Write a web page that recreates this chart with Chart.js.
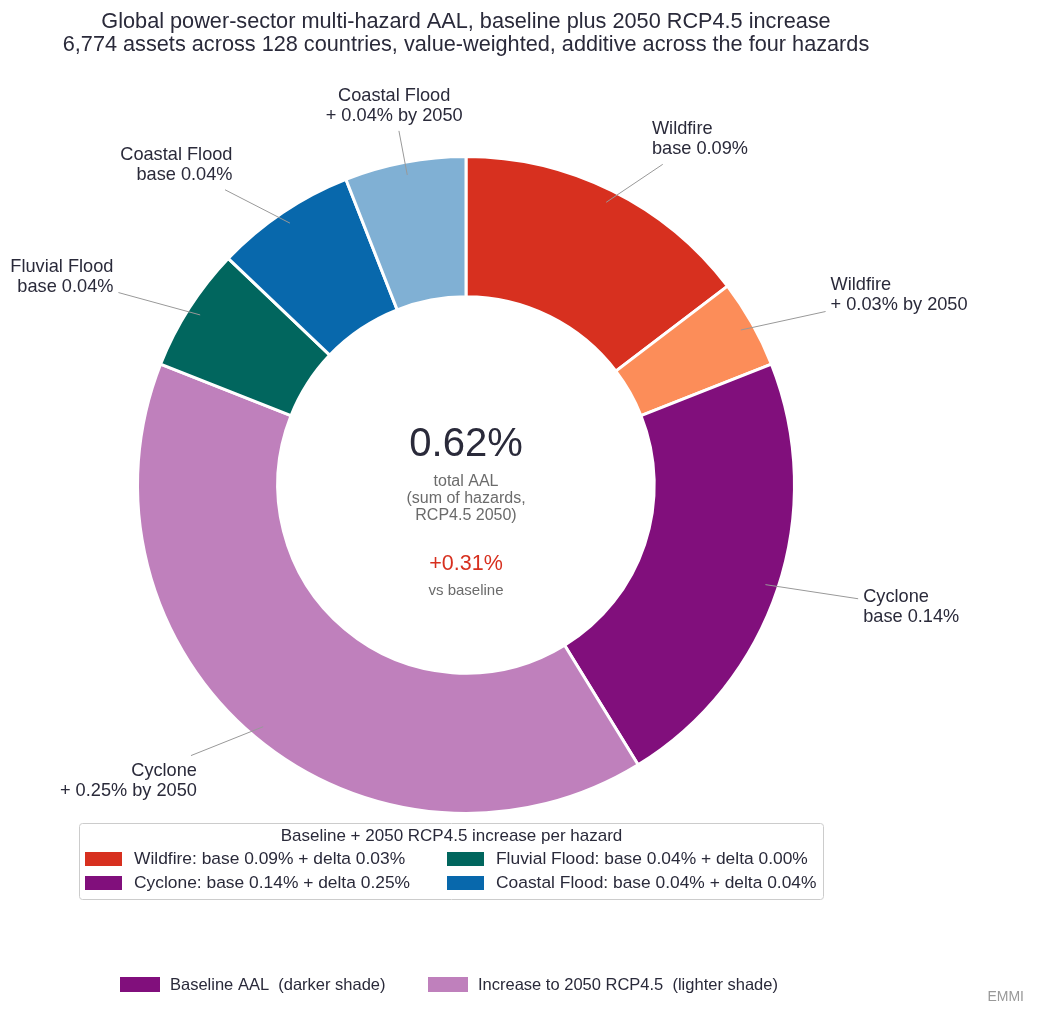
<!DOCTYPE html>
<html>
<head>
<meta charset="utf-8">
<script src="https://cdn.jsdelivr.net/npm/chart.js@4.4.0/dist/chart.umd.min.js"></script>
<style>
  html, body { margin: 0; padding: 0; background: #fff; }
  #wrap { width: 1037px; height: 1016px; position: relative; }
</style>
</head>
<body>
<div id="wrap"><canvas id="chart"></canvas></div>
<script>
const hazards = ["Wildfire", "Cyclone", "Fluvial Flood", "Coastal Flood"];
const baseAAL = [0.091, 0.138, 0.038, 0.043];
const deltaAAL = [0.027, 0.247, 0.000, 0.037];
const baseColors = ["#d7301f", "#810f7c", "#01665e", "#0868ac"];
const deltaColors = ["#fc8d59", "#bf80bc", "#7fb2ae", "#80b0d4"];
const titleLines = [
    "Global power-sector multi-hazard AAL, baseline plus 2050 RCP4.5 increase",
    "6,774 assets across 128 countries, value-weighted, additive across the four hazards"
];
const legendTitle = "Baseline + 2050 RCP4.5 increase per hazard";
const shadeLabels = ["Baseline AAL  (darker shade)", "Increase to 2050 RCP4.5  (lighter shade)"];

const FONT = "'Liberation Sans', Arial, Helvetica, sans-serif";
const INK = "#2a2a3a";

// one slice per hazard for baseline, then its increase
const segValues = [], segColors = [], segLabels = [];
hazards.forEach((h, i) => {
    segValues.push(baseAAL[i], deltaAAL[i]);
    segColors.push(baseColors[i], deltaColors[i]);
    segLabels.push([h, `base ${baseAAL[i].toFixed(2)}%`]);
    segLabels.push([h, `+ ${deltaAAL[i].toFixed(2)}% by 2050`]);
});
const totalAAL = segValues.reduce((a, b) => a + b, 0);
const totalDelta = deltaAAL.reduce((a, b) => a + b, 0);

function entryT(p, c, lo, hi) {
    if (p >= lo && p <= hi) return 0;
    const edge = p < lo ? lo : hi;
    return (edge - p) / (c - p);
}

const sliceLabels = {
    id: "sliceLabels",
    afterDatasetsDraw(chart) {
        const ctx = chart.ctx;
        const meta = chart.getDatasetMeta(0);
        const lh = 20;
        ctx.save();
        ctx.font = `18.2px ${FONT}`;
        meta.data.forEach((arc, i) => {
            if (segValues[i] <= 0) return;
            const p = arc.getProps(["x", "y", "startAngle", "endAngle", "outerRadius"], true);
            const mid = (p.startAngle + p.endAngle) / 2;
            const R = p.outerRadius - 1.5;
            const cx = Math.cos(mid), cy = Math.sin(mid);
            const x0 = p.x + cx * R * 0.965, y0 = p.y + cy * R * 0.965;
            const align = Math.abs(cx) < 0.3 ? "center" : (cx > 0 ? "left" : "right");
            const ax = p.x + cx * R * (align === "center" ? 1.18 : 1.28);
            const ay = p.y + cy * R * 1.18;
            const lines = segLabels[i];
            const w = Math.max(...lines.map(s => ctx.measureText(s).width));
            const left = align === "left" ? ax : (align === "right" ? ax - w : ax - w / 2);
            const top = ay - lines.length * lh / 2;
            const bx = left + w / 2, by = ay;
            const pad = 5;
            const t = Math.max(entryT(x0, bx, left - pad, left + w + pad),
                               entryT(y0, by, top - pad, top + lines.length * lh + pad));
            ctx.strokeStyle = "#999";
            ctx.lineWidth = 1;
            ctx.beginPath();
            ctx.moveTo(x0, y0);
            ctx.lineTo(x0 + (bx - x0) * t, y0 + (by - y0) * t);
            ctx.stroke();
            ctx.fillStyle = INK;
            ctx.textAlign = align;
            ctx.textBaseline = "middle";
            lines.forEach((s, j) => {
                ctx.fillText(s, ax, ay + (j - (lines.length - 1) / 2) * lh);
            });
        });
        ctx.restore();
    }
};

const centerText = {
    id: "centerText",
    afterDatasetsDraw(chart) {
        const ctx = chart.ctx;
        const arc = chart.getDatasetMeta(0).data[0];
        const x = arc.x, y = arc.y;
        ctx.save();
        ctx.textAlign = "center";
        ctx.textBaseline = "middle";
        // figure title, centred over the ring
        ctx.fillStyle = INK;
        ctx.font = `21.7px ${FONT}`;
        ctx.fillText(titleLines[0], x, 22);
        ctx.fillText(titleLines[1], x, 45.5);

        ctx.font = `40px ${FONT}`;
        ctx.fillText(`${totalAAL.toFixed(2)}%`, x, y - 40);
        ctx.fillStyle = "#6b6b6b";
        ctx.font = `16px ${FONT}`;
        ctx.fillText("total AAL", x, y - 3);
        ctx.fillText("(sum of hazards,", x, y + 14);
        ctx.fillText("RCP4.5 2050)", x, y + 31);
        ctx.fillStyle = "#d7301f";
        ctx.font = `21.5px ${FONT}`;
        ctx.fillText(`+${totalDelta.toFixed(2)}%`, x, y + 79);
        ctx.fillStyle = "#6b6b6b";
        ctx.font = `15px ${FONT}`;
        ctx.fillText("vs baseline", x, y + 106);
        ctx.restore();
    }
};

const legends = {
    id: "legends",
    afterDraw(chart) {
        const ctx = chart.ctx;
        ctx.save();
        // hazard legend box
        const bx = 79.5, by = 823.5, bw = 744, bh = 76;
        ctx.strokeStyle = "#cccccc";
        ctx.lineWidth = 1;
        ctx.beginPath();
        ctx.roundRect(bx, by, bw, bh, 3);
        ctx.stroke();
        ctx.fillStyle = INK;
        ctx.textBaseline = "middle";
        ctx.textAlign = "center";
        ctx.font = `17px ${FONT}`;
        ctx.fillText(legendTitle, bx + bw / 2, 836);
        ctx.textAlign = "left";
        ctx.font = `17.4px ${FONT}`;
        const cols = [85, 447], rows = [859, 883];
        hazards.forEach((h, i) => {
            const cx = cols[Math.floor(i / 2)], cy = rows[i % 2];
            ctx.fillStyle = baseColors[i];
            ctx.fillRect(cx, cy - 7, 37, 14);
            ctx.fillStyle = INK;
            ctx.fillText(`${h}: base ${baseAAL[i].toFixed(2)}% + delta ${deltaAAL[i].toFixed(2)}%`, cx + 49, cy);
        });
        // shade legend
        const shades = [baseColors[1], deltaColors[1]];
        const sx = [120, 428];
        ctx.font = `16.5px ${FONT}`;
        shadeLabels.forEach((s, i) => {
            ctx.fillStyle = shades[i];
            ctx.fillRect(sx[i], 977, 40, 15);
            ctx.fillStyle = INK;
            ctx.fillText(s, sx[i] + 50, 985);
        });
        ctx.fillStyle = "#999";
        ctx.textAlign = "right";
        ctx.font = `14px ${FONT}`;
        ctx.fillText("EMMI", 1024, 997);
        ctx.restore();
    }
};

new Chart(document.getElementById("chart"), {
    type: "doughnut",
    data: {
        labels: segLabels.map(l => l.join(" ")),
        datasets: [{
            data: segValues,
            backgroundColor: segColors,
            borderColor: "#ffffff",
            borderWidth: 3
        }]
    },
    options: {
        responsive: true,
        maintainAspectRatio: false,
        animation: false,
        cutout: "57.3%",
        layout: { padding: { left: 136, right: 241, top: 155, bottom: 201 } },
        plugins: {
            legend: { display: false },
            tooltip: { enabled: false },
            title: { display: false }
        }
    },
    plugins: [sliceLabels, centerText, legends]
});
</script>
</body>
</html>
